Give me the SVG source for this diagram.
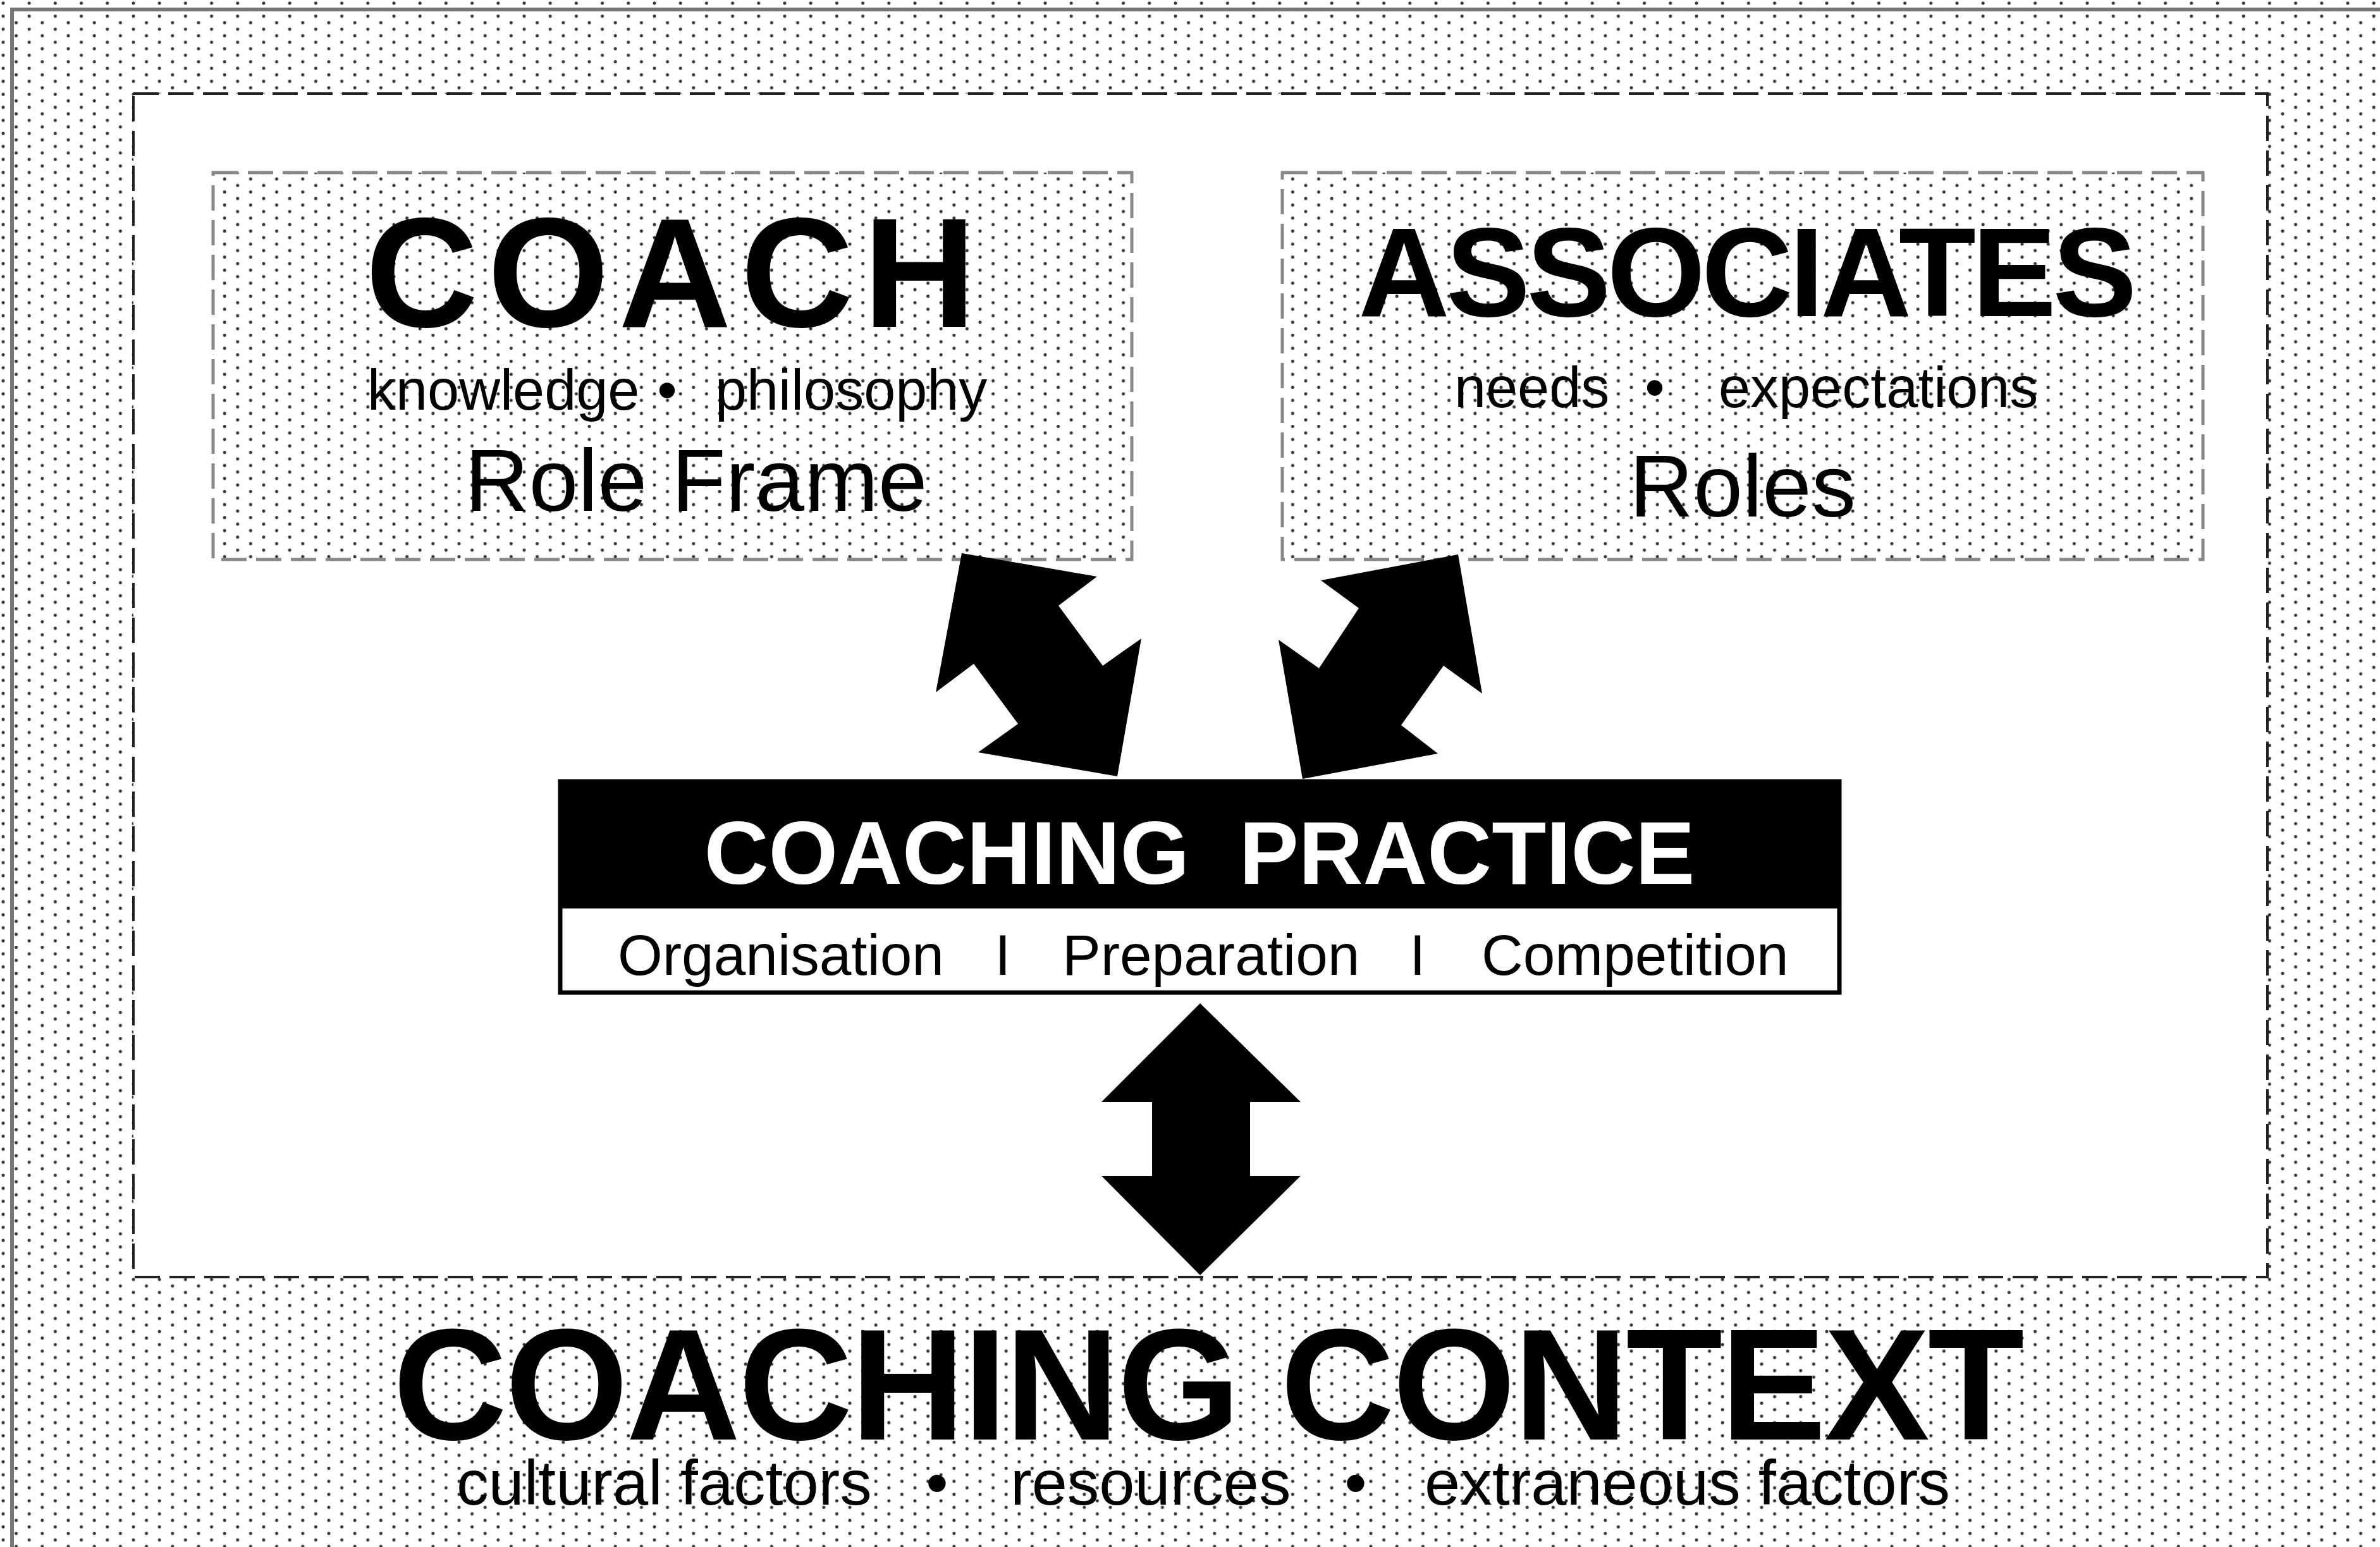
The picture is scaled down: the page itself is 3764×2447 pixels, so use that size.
<svg xmlns="http://www.w3.org/2000/svg" width="3764" height="2447" viewBox="0 0 3764 2447">
  <defs>
    <pattern id="dots" patternUnits="userSpaceOnUse" x="0" y="0" width="41.2" height="20.6">
      <circle cx="5" cy="5" r="2.5" fill="#333"/>
      <circle cx="25.6" cy="15.3" r="2.5" fill="#333"/>
    </pattern>
    <style>
      text { font-family: "Liberation Sans", Arial, sans-serif; fill: #000; }
      .bold { font-weight: bold; }
      .sub { font-size: 90px; }
      .mid { text-anchor: middle; }
      .boxdash { fill: url(#dots); stroke: #888; stroke-width: 5; stroke-dasharray: 40 15; }
      .arrow { fill: #000; stroke: none; }
    </style>
  </defs>

  <!-- background -->
  <rect x="0" y="0" width="3764" height="2447" fill="#fff"/>
  <rect x="0" y="0" width="3764" height="2447" fill="url(#dots)"/>
  <rect x="19" y="15" width="3800" height="2500" fill="none" stroke="#777" stroke-width="6"/>

  <!-- inner white area -->
  <rect id="frame" x="211" y="148" width="3375" height="1872" fill="#fff" stroke="#222" stroke-width="4" stroke-dasharray="40 15"/>

  <g id="node-coach">
    <rect class="boxdash" x="337" y="273" width="1453" height="612"/>
    <text class="bold mid" x="1068" y="517" font-size="247" letter-spacing="15">COACH</text>
    <text class="sub" x="581" y="648">knowledge</text>
    <text class="sub mid" x="1055" y="648">•</text>
    <text class="sub" x="1131" y="648">philosophy</text>
    <text class="mid" x="1101" y="808" font-size="140">Role Frame</text>
  </g>

  <g id="node-associates">
    <rect class="boxdash" x="2028" y="273" width="1456" height="612"/>
    <text class="bold mid" x="2761" y="500" font-size="200" letter-spacing="-6">ASSOCIATES</text>
    <text class="sub" x="2300" y="644">needs</text>
    <text class="sub mid" x="2617" y="644">•</text>
    <text class="sub" x="2718" y="644">expectations</text>
    <text class="mid" x="2756" y="817" font-size="140">Roles</text>
  </g>

  <g id="node-practice">
    <rect x="886" y="1236" width="2023" height="334" fill="#fff" stroke="#000" stroke-width="7"/>
    <rect x="883" y="1233" width="2029" height="204" fill="#000"/>
    <text class="bold mid" x="1897" y="1398" font-size="141" style="fill:#fff" xml:space="preserve">COACHING  PRACTICE</text>
    <text x="977" y="1542" font-size="91">Organisation</text>
    <text class="mid" x="1586" y="1542" font-size="91">I</text>
    <text x="1680" y="1542" font-size="91">Preparation</text>
    <text class="mid" x="2242" y="1542" font-size="91">I</text>
    <text x="2343" y="1542" font-size="91">Competition</text>
  </g>

  <g id="node-context">
    <text class="bold mid" x="1910" y="2277" font-size="250" letter-spacing="-3">COACHING CONTEXT</text>
    <text x="722" y="2380" font-size="101">cultural factors</text>
    <text class="mid" x="1482" y="2380" font-size="101">•</text>
    <text x="1598" y="2380" font-size="101">resources</text>
    <text class="mid" x="2144" y="2380" font-size="101">•</text>
    <text x="2253" y="2380" font-size="101">extraneous factors</text>
  </g>

  <g id="connectors">
    <polygon class="arrow" points="1521,875 1735,912 1674,958 1744,1053 1805,1010 1767,1228 1547,1190 1610,1145 1540,1050 1480,1095"/>
    <polygon class="arrow" points="2306,877 2089,918 2149,962 2086,1057 2022,1012 2060,1232 2274,1192 2216,1147 2283,1053 2344,1097"/>
    <polygon class="arrow" points="1898,1587 2057,1743 1977,1743 1977,1860 2057,1860 1898,2017 1742,1860 1822,1860 1822,1743 1742,1743"/>
  </g>
</svg>
